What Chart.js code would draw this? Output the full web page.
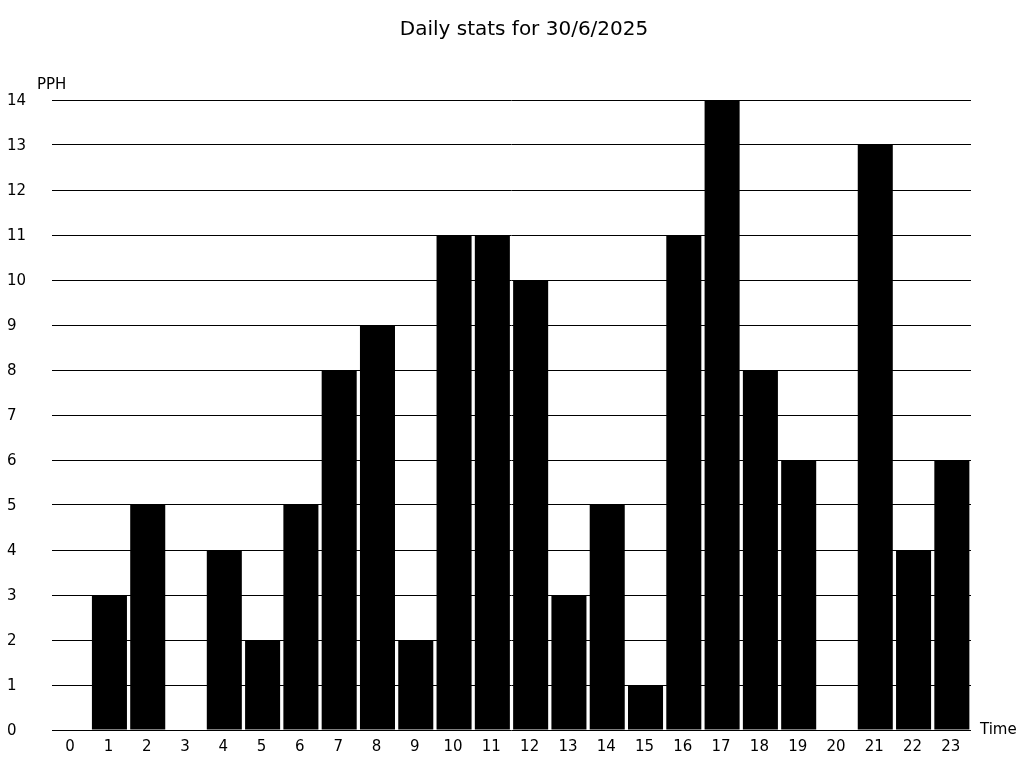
<!DOCTYPE html>
<html>
<head>
<meta charset="utf-8">
<script src="https://cdn.jsdelivr.net/npm/chart.js@4"></script>
<style>
  html, body { margin: 0; padding: 0; background: #fff; }
  #wrap { width: 1024px; height: 768px; }
</style>
</head>
<body>
<div id="wrap"><canvas id="statsChart" width="1024" height="768"></canvas></div>
<script>
const hours = ['0','1','2','3','4','5','6','7','8','9','10','11','12','13','14','15','16','17','18','19','20','21','22','23'];
const pph = [0, 3, 5, 0, 4, 2, 5, 8, 9, 2, 11, 11, 10, 3, 5, 1, 11, 14, 8, 6, 0, 13, 4, 6];
const chartTitle = 'Daily stats for 30/6/2025';
const yLabel = 'PPH';
const xLabel = 'Time';

Chart.defaults.font.family = '"DejaVu Sans", sans-serif';
Chart.defaults.color = '#000';

// title and axis captions sit off the usual spots, so draw them by hand
const captions = {
  id: 'captions',
  afterDraw(chart) {
    const ctx = chart.ctx;
    const area = chart.chartArea;
    ctx.save();
    ctx.fillStyle = '#000';
    ctx.textBaseline = 'middle';
    ctx.font = '20px "DejaVu Sans", sans-serif';
    ctx.textAlign = 'center';
    ctx.fillText(chartTitle, 524, 30);
    ctx.font = '15px "DejaVu Sans", sans-serif';
    ctx.textAlign = 'left';
    ctx.fillText(yLabel, 37, area.top - 15);
    ctx.fillText(xLabel, area.right + 9, area.bottom);
    ctx.restore();
  }
};

new Chart(document.getElementById('statsChart'), {
  type: 'bar',
  data: {
    labels: hours,
    datasets: [{
      label: yLabel,
      data: pph,
      backgroundColor: '#000',
      borderWidth: 0,
      categoryPercentage: 1.0,
      barPercentage: 0.915,
    }],
  },
  options: {
    responsive: false,
    animation: false,
    layout: { padding: { left: 7, right: 53, top: 100, bottom: 0 } },
    plugins: {
      legend: { display: false },
      tooltip: { enabled: false },
      title: { display: false },
    },
    scales: {
      x: {
        grid: { display: false },
        border: { display: false },
        ticks: { font: { size: 15 }, padding: 0, labelOffset: -1, maxRotation: 0, autoSkip: false },
        afterFit(axis) { axis.height = 38; },
      },
      y: {
        min: 0,
        max: 14,
        grid: { color: '#000', lineWidth: 1, drawTicks: false },
        border: { display: false },
        ticks: { stepSize: 1, font: { size: 15 }, crossAlign: 'far', padding: 8, labelOffset: 1.5 },
        afterFit(axis) { axis.width = 45; },
      },
    },
  },
  plugins: [captions],
});
</script>
</body>
</html>
